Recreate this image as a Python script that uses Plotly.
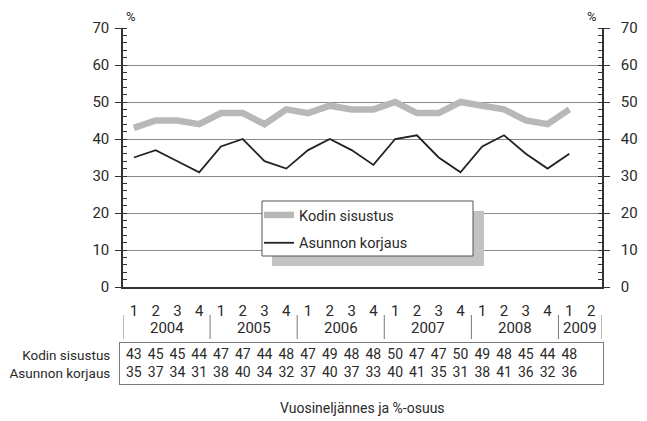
import plotly.graph_objects as go

quarters = ["1", "2", "3", "4"] * 5 + ["1", "2"]
years = ["2004", "2005", "2006", "2007", "2008", "2009"]
quarters_per_year = [4, 4, 4, 4, 4, 2]
kodin = [43, 45, 45, 44, 47, 47, 44, 48, 47, 49, 48, 48, 50, 47, 47, 50, 49, 48, 45, 44, 48]
asunnon = [35, 37, 34, 31, 38, 40, 34, 32, 37, 40, 37, 33, 40, 41, 35, 31, 38, 41, 36, 32, 36]
names = ["Kodin sisustus", "Asunnon korjaus"]
y_ticks = [0, 10, 20, 30, 40, 50, 60, 70]

FONT = "Roboto, sans-serif"
TXT = "#2a2a2a"
AX = "#333333"
GRID = "#8a8a8a"

n_pos = len(quarters)
xs = list(range(len(kodin)))

fig = go.Figure()
fig.add_trace(go.Scatter(x=xs, y=kodin, mode="lines", name=names[0],
                         line=dict(color="#b8b8b8", width=6.5), legendgroup="a"))
fig.add_trace(go.Scatter(x=xs, y=asunnon, mode="lines", name=names[1],
                         line=dict(color="#222222", width=1.8), legendgroup="b"))
# invisible trace for right axis
fig.add_trace(go.Scatter(x=[0], y=[0], yaxis="y2", mode="markers",
                         marker=dict(opacity=0), showlegend=False, hoverinfo="skip"))
# table rows
for name, vals in zip(names, [kodin, asunnon]):
    fig.add_trace(go.Scatter(x=xs, y=[name] * len(vals), xaxis="x2", yaxis="y3",
                             mode="text", text=[str(v) for v in vals],
                             textfont=dict(family=FONT, size=14, color=TXT),
                             showlegend=False, hoverinfo="skip"))

# geometry: target window pixels; page body has an 8px margin
OFF = 8
W, H = 647 - OFF, 421 - OFF
ml, mr, mt, mb = 120 - OFF, 44, 28 - OFF, 10
pw = W - ml - mr
ph = H - mt - mb
def px(p):
    return (p - OFF - ml) / pw
def py(p):
    return (H - mb - (p - OFF)) / ph

main_dom = [py(287), 1]
table_dom = [py(384), py(343)]
unit = (602 - 123) / n_pos

yax = dict(range=[0, 70], tickvals=y_ticks, showgrid=True, gridcolor=GRID, gridwidth=1,
           showline=True, linecolor=AX, linewidth=1.5, ticks="outside", ticklen=6,
           tickcolor=AX, tickfont=dict(family=FONT, size=15, color=TXT),
           minor=dict(dtick=2, ticks="inside", ticklen=4, tickcolor=AX, showgrid=False),
           zeroline=False, fixedrange=True, automargin=False)

fig.update_layout(
    width=W, height=H,
    margin=dict(l=ml, r=mr, t=mt, b=mb, autoexpand=False),
    paper_bgcolor="white", plot_bgcolor="white",
    font=dict(family=FONT, color=TXT),
    xaxis=dict(range=[-0.5, n_pos - 0.5], domain=[px(123), px(602)], anchor="y",
               tickvals=list(range(n_pos)), ticktext=quarters,
               ticks="outside", ticklen=9, tickcolor="rgba(0,0,0,0)",
               tickfont=dict(family=FONT, size=15, color=TXT),
               showline=True, linecolor=AX, linewidth=1.5, showgrid=False,
               zeroline=False, automargin=False),
    yaxis=dict(domain=main_dom, ticklabelstandoff=3, **yax),
    yaxis2=dict(overlaying="y", side="right", anchor="x", ticklabelstandoff=8, **yax),
    xaxis2=dict(range=[-0.5 - 3 / unit, n_pos - 0.5 + 1 / unit], domain=[0, 1], anchor="y3",
                showticklabels=False, ticks="", showline=True, mirror=True,
                linecolor="#7a7a7a", linewidth=1, showgrid=False, zeroline=False,
                automargin=False),
    yaxis3=dict(domain=table_dom, anchor="x2", type="category",
                categoryorder="array", categoryarray=[names[1], names[0]],
                range=[-0.61, 1.67], showline=True, mirror=True,
                linecolor="#7a7a7a", linewidth=1, ticks="", ticklabelstandoff=6,
                tickfont=dict(family=FONT, size=13.5, color=TXT),
                showgrid=False, zeroline=False, automargin=False),
    legend=dict(x=px(259), y=py(199), xanchor="left", yanchor="top",
                bgcolor="rgba(0,0,0,0)", borderwidth=0,
                font=dict(family=FONT, size=14.5, color=TXT),
                tracegroupgap=6, itemwidth=30),
    showlegend=True,
)

# legend shadow and frame
fig.add_shape(type="rect", xref="paper", yref="paper",
              x0=px(272), x1=px(484), y0=py(266), y1=py(211),
              fillcolor="#c2c2c2", line=dict(width=0), layer="above")
fig.add_shape(type="rect", xref="paper", yref="paper",
              x0=px(262), x1=px(473), y0=py(256), y1=py(201),
              fillcolor="white", line=dict(color="#555555", width=1), layer="above")

# year labels and separators
start = 0
for yr, nq in zip(years, quarters_per_year):
    fig.add_annotation(x=start + (nq - 1) / 2, y=py(328), xref="x", yref="paper",
                       xanchor="center", yanchor="middle",
                       text=yr, showarrow=False,
                       font=dict(family=FONT, size=15, color=TXT))
    start += nq
bounds = [-0.5]
acc = 0
for nq in quarters_per_year:
    acc += nq
    bounds.append(acc - 0.5)
for b in bounds:
    fig.add_shape(type="line", xref="x", yref="paper", x0=b, x1=b,
                  y0=py(339), y1=py(315), line=dict(color="#777777", width=1))

# % labels
for xp in (131, 592):
    fig.add_annotation(x=px(xp), y=py(17), xref="paper", yref="paper",
                       xanchor="center", yanchor="middle",
                       text="%", showarrow=False, font=dict(family=FONT, size=13, color=TXT))
# axis title
fig.add_annotation(x=px(362), y=py(408), xref="paper", yref="paper",
                   xanchor="center", yanchor="middle",
                   text="Vuosineljännes ja %-osuus", showarrow=False,
                   font=dict(family=FONT, size=14, color=TXT))

fig.write_html("out.html")
